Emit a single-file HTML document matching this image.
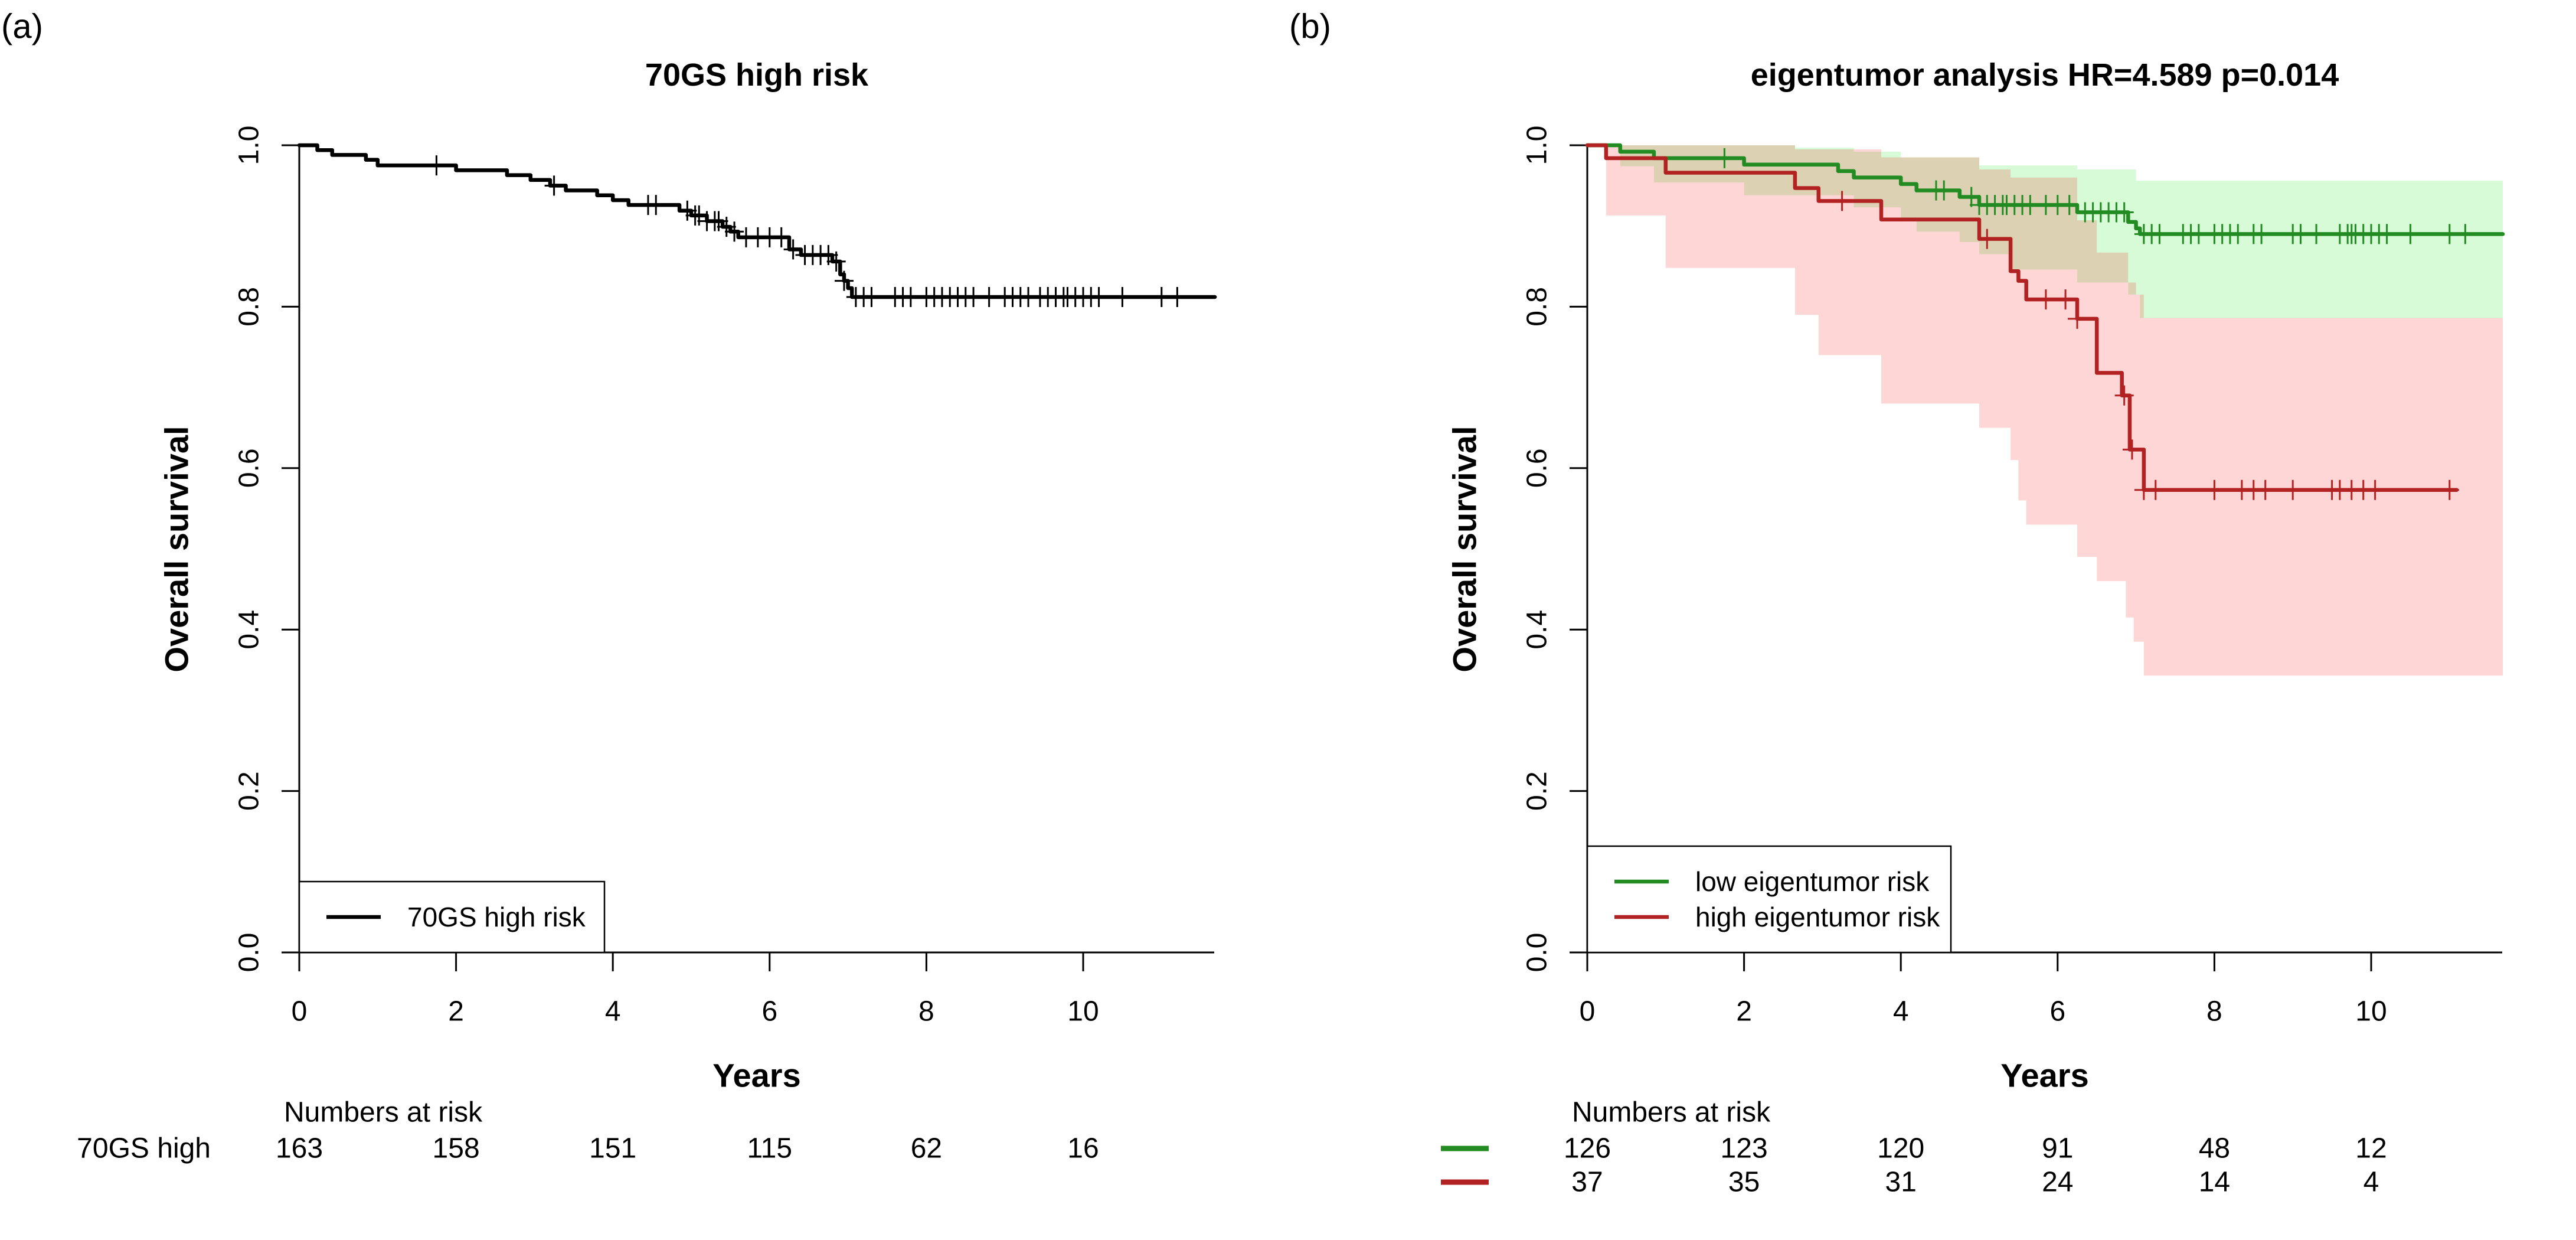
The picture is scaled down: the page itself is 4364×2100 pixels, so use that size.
<!DOCTYPE html>
<html><head><meta charset="utf-8"><style>
html,body{margin:0;padding:0;background:#fff;}
svg{display:block;font-family:"Liberation Sans",Arial,sans-serif;}
</style></head><body>
<svg id="fig" width="4364" height="2100" viewBox="0 0 4364 2100" xmlns="http://www.w3.org/2000/svg"></svg>
<script>
// ---- data ----
const xTicks = [0, 2, 4, 6, 8, 10];
const yTicks = [0.0, 0.2, 0.4, 0.6, 0.8, 1.0];
const yTickLabels = ["0.0", "0.2", "0.4", "0.6", "0.8", "1.0"];
// Panel (a) 70GS high risk
const aStepTimes = [0, 0.23, 0.42, 0.85, 1.0, 2.0, 2.65, 2.95, 3.2, 3.4, 3.8, 4.0, 4.2, 4.85, 5.0, 5.2, 5.4, 5.5, 5.6, 6.25, 6.4, 6.8, 6.9, 6.95, 7.0, 7.05];
const aStepSurv  = [1, 0.994, 0.988, 0.982, 0.975, 0.969, 0.963, 0.957, 0.950, 0.944, 0.938, 0.932, 0.926, 0.919, 0.913, 0.906, 0.899, 0.893, 0.886, 0.871, 0.864, 0.856, 0.840, 0.832, 0.823, 0.812];
const aEnd = 11.68;
const aCensor = [1.75, 3.25, 4.45, 4.55, 4.95, 5.05, 5.1, 5.2, 5.3, 5.35, 5.45, 5.55, 5.7, 5.85, 6.0, 6.15, 6.3, 6.45, 6.55, 6.65, 6.75, 6.85, 6.95, 7.1, 7.2, 7.3, 7.6, 7.7, 7.8, 8.0, 8.1, 8.2, 8.3, 8.4, 8.5, 8.6, 8.8, 9.0, 9.1, 9.2, 9.3, 9.45, 9.55, 9.65, 9.75, 9.8, 9.9, 10.0, 10.1, 10.2, 10.5, 11.0, 11.2];
const aRisk = [163, 158, 151, 115, 62, 16];
// Panel (b) low eigentumor risk (green)
const gStepTimes = [0, 0.42, 0.85, 2.0, 3.2, 3.4, 4.0, 4.2, 4.75, 5.0, 6.25, 6.9, 7.0, 7.05];
const gStepSurv  = [1, 0.992, 0.984, 0.976, 0.968, 0.960, 0.952, 0.944, 0.936, 0.926, 0.917, 0.905, 0.897, 0.890];
const gEnd = 11.68;
const gCensor = [1.75, 4.45, 4.55, 4.9, 5.0, 5.1, 5.2, 5.3, 5.35, 5.45, 5.55, 5.65, 5.85, 6.0, 6.15, 6.35, 6.45, 6.55, 6.65, 6.75, 6.85, 7.1, 7.2, 7.3, 7.6, 7.7, 7.8, 8.0, 8.1, 8.2, 8.3, 8.5, 8.6, 9.0, 9.1, 9.3, 9.6, 9.7, 9.75, 9.8, 9.9, 10.0, 10.1, 10.2, 10.5, 11.0, 11.2];
const gUpT = [0, 2.65, 3.4, 4.0, 5.0, 6.25, 7.0];
const gUpV = [1, 0.997, 0.992, 0.985, 0.975, 0.970, 0.956];
const gLoT = [0, 0.42, 0.85, 2.0, 3.4, 4.0, 4.2, 4.75, 5.0, 5.4, 6.25, 6.9, 7.05];
const gLoV = [1, 0.974, 0.954, 0.938, 0.923, 0.906, 0.893, 0.880, 0.865, 0.846, 0.830, 0.815, 0.786];
const gRisk = [126, 123, 120, 91, 48, 12];
// Panel (b) high eigentumor risk (red)
const rStepTimes = [0, 0.24, 1.0, 2.65, 2.95, 3.75, 5.0, 5.4, 5.5, 5.6, 6.25, 6.5, 6.82, 6.92, 7.1];
const rStepSurv  = [1, 0.984, 0.966, 0.947, 0.931, 0.908, 0.884, 0.844, 0.832, 0.809, 0.785, 0.718, 0.690, 0.623, 0.573];
const rEnd = 11.09;
const rCensor = [3.25, 5.1, 5.85, 6.1, 6.25, 6.85, 6.95, 7.1, 7.25, 8.0, 8.35, 8.5, 8.65, 9.0, 9.5, 9.6, 9.75, 9.9, 10.05, 11.0];
const rUpT = [0, 2.65, 3.75, 5.0, 5.4, 6.25, 6.5, 6.9, 7.0, 7.1];
const rUpV = [1, 0.995, 0.985, 0.970, 0.960, 0.907, 0.867, 0.830, 0.815, 0.786];
const rLoT = [0, 0.24, 1.0, 2.65, 2.95, 3.75, 5.0, 5.4, 5.5, 5.6, 6.25, 6.5, 6.87, 6.97, 7.1];
const rLoV = [1, 0.913, 0.848, 0.790, 0.740, 0.680, 0.650, 0.610, 0.560, 0.530, 0.490, 0.460, 0.415, 0.385, 0.343];
const rRisk = [37, 35, 31, 24, 14, 4];
const bandEnd = 11.68;

// ---- drawing ----
const NS = "http://www.w3.org/2000/svg";
const svg = document.getElementById("fig");
const X0 = 507, PXY = 132.8, Y0 = 1613, PXS = 1367, XMAXPX = 2057;
const Y_YEARS = 1821, Y_NR = 1884, Y_ROW1 = 1945, Y_ROW2 = 2002;
function mk(tag, attrs, parent) {
  const e = document.createElementNS(NS, tag);
  for (const k in attrs) e.setAttribute(k, attrs[k]);
  (parent || svg).appendChild(e);
  return e;
}
function txt(s, x, y, size, opts, parent) {
  const e = mk("text", Object.assign({x: x, y: y, "font-size": size, "text-anchor": "middle", "dominant-baseline": "central", fill: "#000"}, opts || {}), parent);
  e.textContent = s;
  return e;
}
function ys(v) { return Y0 - v * PXS; }
function stepPath(xs, ts, vs, end) {
  let d = "M" + xs(ts[0]) + "," + ys(vs[0]);
  for (let i = 1; i < ts.length; i++) d += " H" + xs(ts[i]) + " V" + ys(vs[i]);
  d += " H" + xs(end);
  return d;
}
function bandPath(xs, upT, upV, loT, loV, end) {
  let d = "M" + xs(upT[0]) + "," + ys(upV[0]);
  for (let i = 1; i < upT.length; i++) d += " H" + xs(upT[i]) + " V" + ys(upV[i]);
  d += " H" + xs(end) + " V" + ys(loV[loV.length - 1]);
  for (let i = loT.length - 1; i >= 1; i--) d += " H" + xs(loT[i]) + " V" + ys(loV[i - 1]);
  d += " H" + xs(loT[0]) + " Z";
  return d;
}
function survAt(ts, vs, t) {
  let v = vs[0];
  for (let i = 0; i < ts.length; i++) if (ts[i] <= t) v = vs[i];
  return v;
}
function axes(ox, g) {
  const xs = t => ox + X0 + t * PXY;
  mk("line", {x1: ox + X0, y1: Y0, x2: ox + XMAXPX, y2: Y0, stroke: "#000", "stroke-width": 3}, g);
  mk("line", {x1: ox + X0, y1: ys(0), x2: ox + X0, y2: ys(1), stroke: "#000", "stroke-width": 3}, g);
  xTicks.forEach(t => {
    const tk = mk("line", {x1: xs(t), y1: Y0, x2: xs(t), y2: Y0 + 32, stroke: "#000", "stroke-width": 3}, g);
    
    
    const lb = txt(String(t), xs(t), 1713, 48, {}, g);
    
    
  });
  yTicks.forEach((v, i) => {
    const tk = mk("line", {x1: ox + X0 - 30, y1: ys(v), x2: ox + X0, y2: ys(v), stroke: "#000", "stroke-width": 3}, g);
    
    
    const lb = txt(yTickLabels[i], ox + 422, ys(v), 48, {transform: "rotate(-90 " + (ox + 422) + " " + ys(v) + ")"}, g);
    
    
  });
  const yt = txt("Overall survival", ox + 299, 930, 56, {"font-weight": "bold", transform: "rotate(-90 " + (ox + 299) + " 930)"}, g);
  
  
  const xt = txt("Years", ox + 1282, Y_YEARS, 56, {"font-weight": "bold"}, g);
  
  
  const nr = txt("Numbers at risk", ox + 481, Y_NR, 48, {"text-anchor": "start"}, g);
  
  
  return xs;
}
function curve(xs, ts, vs, end, cens, color, g, name) {
  const p = mk("path", {d: stepPath(xs, ts, vs, end), fill: "none", stroke: color, "stroke-width": 6.5, "stroke-linejoin": "round", "stroke-linecap": "round"}, g);
  
  
  cens.forEach(t => {
    const y = ys(survAt(ts, vs, t)), x = xs(t);
    const c = mk("path", {d: "M" + (x - 16) + "," + y + " H" + (x + 16) + " M" + x + "," + (y - 17) + " V" + (y + 17), stroke: color, "stroke-width": 3, fill: "none"}, g);
    
    
  });
}
function riskRow(xs, vals, y, g, name) {
  vals.forEach((v, i) => {
    const t = txt(String(v), xs(xTicks[i]), y, 48, {}, g);
    
    
  });
}

// Panel A
const gA = mk("g", {});


const la = txt("(a)", 2, 45, 58, {"text-anchor": "start"}, gA);


const ta = txt("70GS high risk", 1282, 127, 54, {"font-weight": "bold"}, gA);


const xsA = axes(0, gA);
curve(xsA, aStepTimes, aStepSurv, aEnd, aCensor, "#000", gA, "70gs-high");
const lgA = mk("g", {}, gA);


mk("rect", {x: 507, y: 1493, width: 517, height: 120, fill: "#fff", stroke: "#000", "stroke-width": 2.5}, lgA);
mk("line", {x1: 553, y1: 1553, x2: 645, y2: 1553, stroke: "#000", "stroke-width": 6.5}, lgA);
const lta = txt("70GS high risk", 690, 1553, 46, {"text-anchor": "start"}, lgA);


const rla = txt("70GS high", 357, Y_ROW1, 48, {"text-anchor": "end"}, gA);


riskRow(xsA, aRisk, Y_ROW1, gA, "70gs-high");

// Panel B
const OX = 2182;
const gB = mk("g", {});


const lb = txt("(b)", OX + 2, 45, 58, {"text-anchor": "start"}, gB);


const tb = txt("eigentumor analysis HR=4.589 p=0.014", OX + 1282, 127, 54, {"font-weight": "bold"}, gB);


const xsB = t => OX + X0 + t * PXY;
const bg = mk("path", {d: bandPath(xsB, gUpT, gUpV, gLoT, gLoV, bandEnd), fill: "rgb(0,230,0)", "fill-opacity": 0.16}, gB);


const br = mk("path", {d: bandPath(xsB, rUpT, rUpV, rLoT, rLoV, bandEnd), fill: "rgb(255,0,0)", "fill-opacity": 0.16}, gB);


axes(OX, gB);
curve(xsB, gStepTimes, gStepSurv, gEnd, gCensor, "#228B22", gB, "low-risk");
curve(xsB, rStepTimes, rStepSurv, rEnd, rCensor, "#B22222", gB, "high-risk");
const lgB = mk("g", {}, gB);


mk("rect", {x: OX + 507, y: 1433, width: 616, height: 180, fill: "#fff", stroke: "#000", "stroke-width": 2.5}, lgB);
mk("line", {x1: OX + 553, y1: 1493, x2: OX + 645, y2: 1493, stroke: "#228B22", "stroke-width": 6.5}, lgB);
mk("line", {x1: OX + 553, y1: 1553, x2: OX + 645, y2: 1553, stroke: "#B22222", "stroke-width": 6.5}, lgB);
const l1 = txt("low eigentumor risk", OX + 690, 1493, 46, {"text-anchor": "start"}, lgB);


const l2 = txt("high eigentumor risk", OX + 690, 1553, 46, {"text-anchor": "start"}, lgB);


const k1 = mk("line", {x1: OX + 259, y1: Y_ROW1, x2: OX + 340, y2: Y_ROW1, stroke: "#228B22", "stroke-width": 9}, gB);


const k2 = mk("line", {x1: OX + 259, y1: Y_ROW2, x2: OX + 340, y2: Y_ROW2, stroke: "#B22222", "stroke-width": 9}, gB);


riskRow(xsB, gRisk, Y_ROW1, gB, "low-risk");
riskRow(xsB, rRisk, Y_ROW2, gB, "high-risk");
</script>
</body></html>
